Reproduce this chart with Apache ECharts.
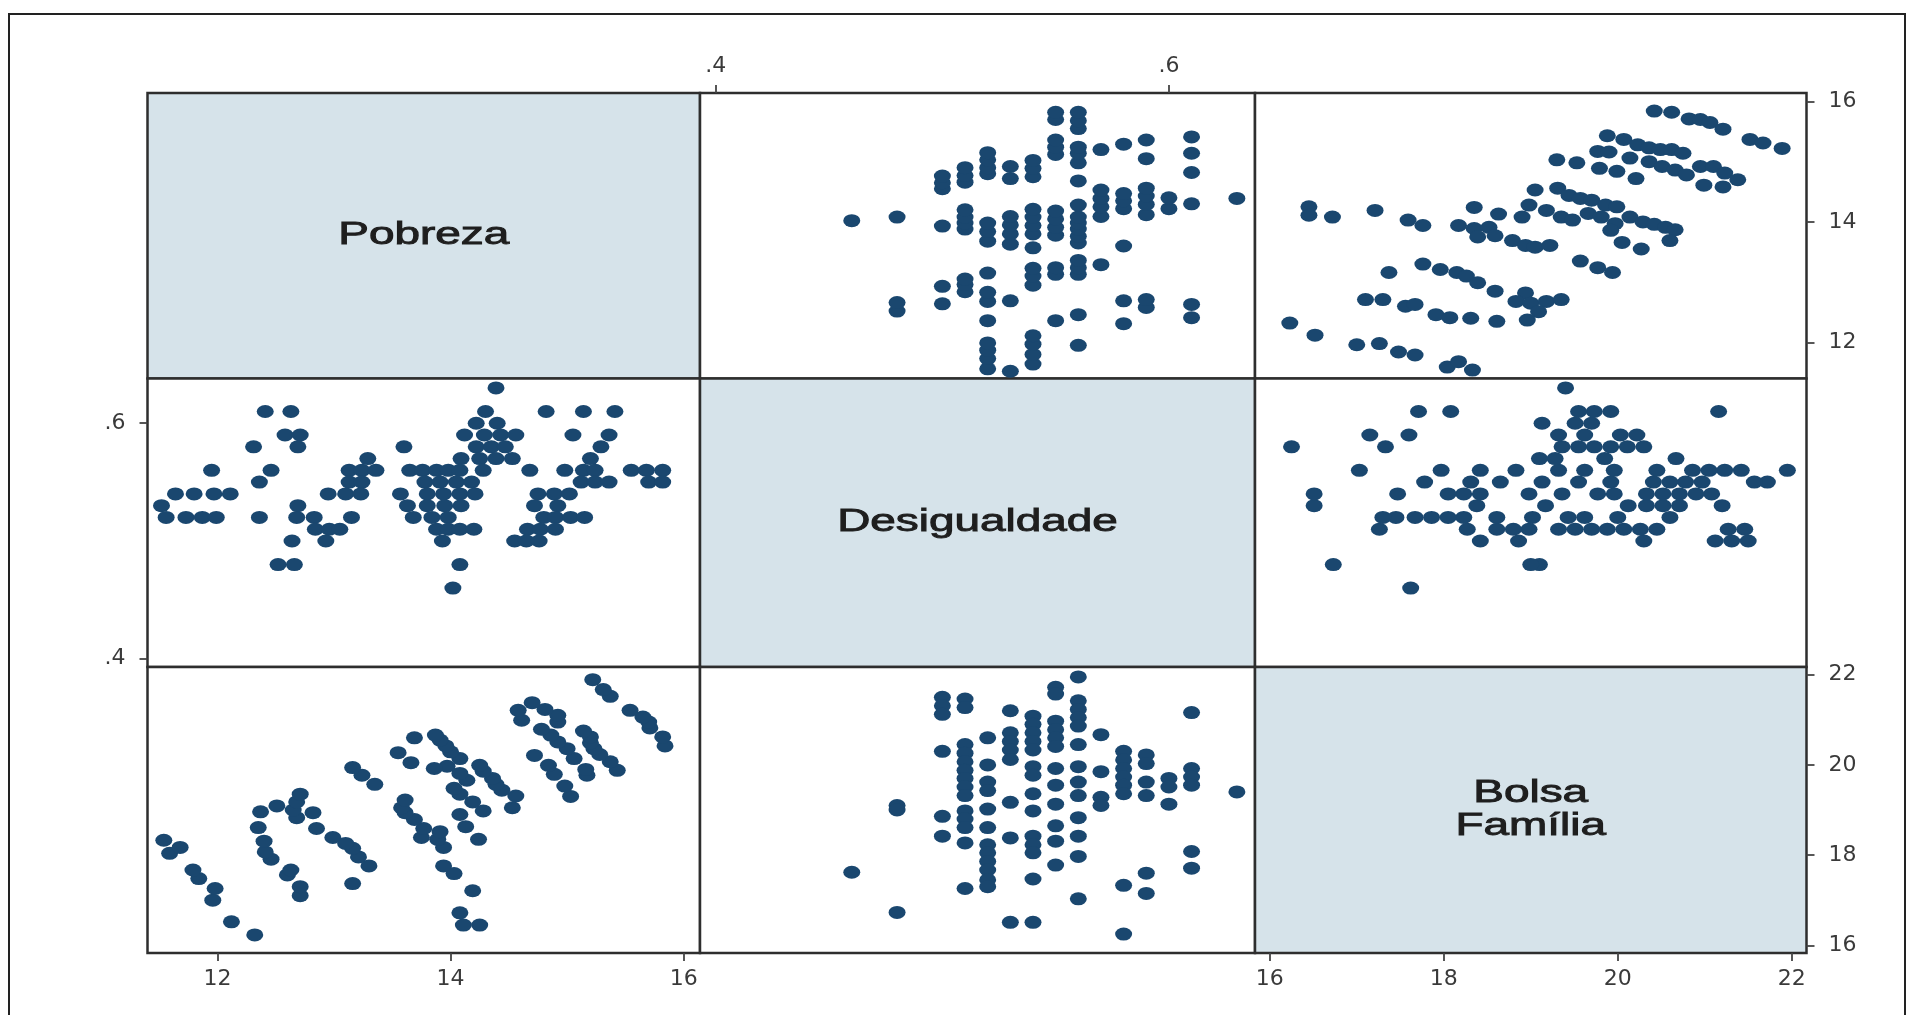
<!DOCTYPE html>
<html><head><meta charset="utf-8">
<script src="https://cdn.jsdelivr.net/npm/echarts@6/dist/echarts.min.js"></script>
<style>html,body{margin:0;padding:0;background:#fff}#c{width:1911px;height:1015px}</style>
</head><body><div id="c"></div>
<script>
// ---- data ----
const variableNames = ['Pobreza', 'Desigualdade', 'Bolsa\nFamília'];
const pobrezaTicks = [12, 14, 16];
const desigualdadeTicks = [0.4, 0.6];
const bolsaTicks = [16, 18, 20, 22];
const pobrezaRange = [11.40, 16.14];
const desigualdadeRange = [0.393, 0.638];
const bolsaRange = [15.83, 22.17];

// [Desigualdade, Pobreza]
const desigualdadePobreza = [
  [0.63,14.39],
  [0.61,12.41],[0.61,12.63],[0.61,14.30],[0.61,14.82],[0.61,15.14],[0.61,15.41],
  [0.60,14.22],[0.60,14.40],
  [0.59,12.58],[0.59,12.71],[0.59,14.12],[0.59,14.29],[0.59,14.43],[0.59,14.56],[0.59,15.05],[0.59,15.36],
  [0.58,12.31],[0.58,12.69],[0.58,13.60],[0.58,14.22],[0.58,14.35],[0.58,14.47],[0.58,15.29],
  [0.57,13.29],[0.57,14.09],[0.57,14.25],[0.57,14.39],[0.57,14.53],[0.57,15.20],
  [0.56,11.95],[0.56,12.46],[0.56,13.13],[0.56,13.24],[0.56,13.36],[0.56,13.65],[0.56,13.76],[0.56,13.88],[0.56,13.98],
  [0.56,14.08],[0.56,14.28],[0.56,14.68],[0.56,14.98],[0.56,15.14],[0.56,15.24],[0.56,15.55],[0.56,15.68],[0.56,15.82],
  [0.55,12.36],[0.55,13.13],[0.55,13.24],[0.55,13.78],[0.55,13.91],[0.55,14.05],[0.55,14.18],[0.55,15.12],[0.55,15.24],
  [0.55,15.36],[0.55,15.70],[0.55,15.82],
  [0.54,11.64],[0.54,11.80],[0.54,11.97],[0.54,12.11],[0.54,12.95],[0.54,13.10],[0.54,13.23],[0.54,13.57],[0.54,13.80],
  [0.54,13.94],[0.54,14.08],[0.54,14.21],[0.54,14.75],[0.54,14.89],[0.54,15.02],
  [0.53,11.52],[0.53,12.69],[0.53,13.63],[0.53,13.80],[0.53,13.95],[0.53,14.09],[0.53,14.72],[0.53,14.92],
  [0.52,11.56],[0.52,11.73],[0.52,11.87],[0.52,11.99],[0.52,12.36],[0.52,12.68],[0.52,12.83],[0.52,13.15],[0.52,13.68],
  [0.52,13.84],[0.52,13.98],[0.52,14.80],[0.52,14.90],[0.52,15.03],[0.52,15.15],
  [0.51,12.84],[0.51,12.96],[0.51,13.05],[0.51,13.88],[0.51,13.98],[0.51,14.08],[0.51,14.20],[0.51,14.66],[0.51,14.77],[0.51,14.90],
  [0.50,12.64],[0.50,12.93],[0.50,13.93],[0.50,14.55],[0.50,14.65],[0.50,14.76],
  [0.48,12.52],[0.48,12.66],[0.48,14.08],
  [0.46,14.02]
];

// [Bolsa Família, Pobreza]
const bolsaPobreza = [
  [20.42,15.84],[20.62,15.82],[20.82,15.71],[20.95,15.70],[21.06,15.65],[21.21,15.54],
  [21.52,15.37],[21.67,15.31],[21.89,15.22],
  [19.88,15.43],[20.07,15.37],[20.23,15.28],[20.36,15.23],[20.49,15.20],[20.62,15.20],[20.75,15.14],
  [19.77,15.17],[19.90,15.16],[19.30,15.03],[19.53,14.98],[19.79,14.89],[19.99,14.84],[20.21,14.72],
  [20.14,15.06],[20.36,15.00],[20.51,14.92],[20.66,14.86],[20.79,14.78],
  [20.95,14.92],[21.10,14.92],[21.23,14.81],[21.38,14.70],[20.99,14.61],[21.21,14.58],
  [19.05,14.53],[19.31,14.56],[19.44,14.44],[19.57,14.39],[19.70,14.36],[19.86,14.28],[19.99,14.25],
  [18.98,14.28],[19.18,14.19],[19.35,14.08],[19.48,14.03],[19.66,14.14],[19.81,14.08],[19.97,13.97],
  [20.14,14.08],[20.29,14.00],[20.42,13.96],[20.55,13.91],[20.66,13.87],
  [18.90,14.08],[18.63,14.13],[18.35,14.24],
  [18.17,13.94],[18.35,13.89],[18.52,13.91],[18.39,13.75],[18.59,13.77],[18.79,13.69],[18.94,13.61],[19.05,13.58],[19.22,13.61],
  [19.92,13.86],[20.05,13.66],[20.27,13.55],[20.60,13.69],
  [19.57,13.35],[19.77,13.24],[19.94,13.16],
  [16.45,14.25],[16.45,14.11],[16.72,14.08],[17.21,14.19],[17.59,14.03],[17.76,13.94],
  [17.76,13.30],[17.96,13.21],[18.15,13.16],[18.26,13.10],[18.39,12.99],[18.59,12.85],
  [17.37,13.16],
  [17.10,12.71],[17.30,12.71],[17.56,12.60],[17.67,12.63],
  [18.94,12.82],[18.83,12.68],[19.00,12.65],[19.18,12.68],[19.35,12.71],[19.09,12.51],[18.96,12.37],
  [17.91,12.46],[18.07,12.41],[18.31,12.40],[18.61,12.35],
  [16.23,12.32],[16.52,12.12],
  [17.00,11.96],[17.26,11.98],[17.48,11.84],[17.67,11.79],
  [18.04,11.59],[18.17,11.68],[18.33,11.54]
];

// [Desigualdade, Bolsa Família]
const desigualdadeBolsa = [
  [0.46,17.62],
  [0.48,19.10],[0.48,19.00],[0.48,16.73],
  [0.50,21.50],[0.50,21.31],[0.50,21.12],[0.50,20.30],[0.50,18.86],[0.50,18.42],
  [0.51,21.46],[0.51,21.27],[0.51,20.45],[0.51,20.26],[0.51,20.07],[0.51,19.88],[0.51,19.70],[0.51,19.51],[0.51,19.32],
  [0.51,18.98],[0.51,18.80],[0.51,18.61],[0.51,18.27],[0.51,17.26],
  [0.52,20.60],[0.52,20.00],[0.52,19.62],[0.52,19.43],[0.52,19.02],[0.52,18.61],[0.52,18.23],[0.52,18.05],[0.52,17.86],
  [0.52,17.67],[0.52,17.45],[0.52,17.30],
  [0.53,21.20],[0.53,20.71],[0.53,20.52],[0.53,20.33],[0.53,20.12],[0.53,19.17],[0.53,18.38],[0.53,16.51],
  [0.54,21.08],[0.54,20.90],[0.54,20.71],[0.54,20.52],[0.54,20.33],[0.54,19.96],[0.54,19.77],[0.54,19.36],[0.54,18.98],
  [0.54,18.42],[0.54,18.23],[0.54,18.05],[0.54,17.47],[0.54,16.51],
  [0.55,21.72],[0.55,21.57],[0.55,20.97],[0.55,20.78],[0.55,20.60],[0.55,20.41],[0.55,19.92],[0.55,19.55],[0.55,19.13],
  [0.55,18.65],[0.55,18.31],[0.55,17.78],
  [0.56,21.95],[0.56,21.42],[0.56,21.23],[0.56,21.05],[0.56,20.86],[0.56,20.45],[0.56,19.96],[0.56,19.62],[0.56,19.32],
  [0.56,18.83],[0.56,18.42],[0.56,17.97],[0.56,17.03],
  [0.57,20.67],[0.57,19.85],[0.57,19.28],[0.57,19.10],
  [0.58,20.30],[0.58,20.11],[0.58,19.92],[0.58,19.73],[0.58,19.55],[0.58,19.36],[0.58,17.33],[0.58,16.25],
  [0.59,20.22],[0.59,20.03],[0.59,19.62],[0.59,19.32],[0.59,17.60],[0.59,17.15],
  [0.60,19.70],[0.60,19.51],[0.60,19.13],
  [0.61,21.16],[0.61,19.92],[0.61,19.73],[0.61,19.55],[0.61,18.08],[0.61,17.71],
  [0.63,19.40]
];

// ---- layout / style ----
const colLeft = [147.5, 700, 1255];
const colWidth = [552.5, 555, 551.5];
const rowTop = [93, 378.5, 667];
const rowHeight = [285.5, 288.5, 286];
const markerColor = '#1a476f';
const diagFill = '#d6e3ea';

const vars = [
  { range: pobrezaRange, ticks: pobrezaTicks, fmt: v => String(v) },
  { range: desigualdadeRange, ticks: desigualdadeTicks, fmt: v => v.toFixed(1).replace(/^0/, '') },
  { range: bolsaRange, ticks: bolsaTicks, fmt: v => String(v) }
];

const swap = arr => arr.map(p => [p[1], p[0]]);
// data for cell (row, col): x = variable col, y = variable row
const cellData = {
  '0,1': desigualdadePobreza,
  '0,2': bolsaPobreza,
  '1,0': swap(desigualdadePobreza),
  '1,2': swap(desigualdadeBolsa),
  '2,0': swap(bolsaPobreza),
  '2,1': desigualdadeBolsa
};

const grids = [], xAxes = [], yAxes = [], series = [];
for (let r = 0; r < 3; r++) {
  for (let c = 0; c < 3; c++) {
    const g = r * 3 + c;
    grids.push({
      left: colLeft[c], top: rowTop[r], width: colWidth[c], height: rowHeight[r],
      show: true, borderColor: '#2e2e2e', borderWidth: 2.5,
      backgroundColor: r === c ? diagFill : '#ffffff'
    });
    const xv = vars[c], yv = vars[r];
    const showX = (r === 0 && c === 1) || (r === 2 && (c === 0 || c === 2));
    const showY = (c === 2 && (r === 0 || r === 2)) || (c === 0 && r === 1);
    const xTop = (r === 0 && c === 1);
    xAxes.push({
      type: 'value', gridIndex: g, min: xv.range[0], max: xv.range[1],
      position: xTop ? 'top' : 'bottom',
      axisLine: { show: false }, splitLine: { show: false },
      axisTick: { show: showX, customValues: xv.ticks, length: 8, lineStyle: { color: '#444', width: 1.8 } },
      axisLabel: { show: showX, customValues: xv.ticks, formatter: xv.fmt, fontFamily: 'DejaVu Sans',
        fontSize: 22, color: '#3a3a3a', margin: xTop ? 16 : 15 }
    });
    yAxes.push({
      type: 'value', gridIndex: g, min: yv.range[0], max: yv.range[1],
      position: c === 2 ? 'right' : 'left',
      axisLine: { show: false }, splitLine: { show: false },
      axisTick: { show: showY, customValues: yv.ticks, length: 8, lineStyle: { color: '#444', width: 1.8 } },
      axisLabel: { show: showY, customValues: yv.ticks, formatter: yv.fmt, fontFamily: 'DejaVu Sans',
        fontSize: 22, color: '#3a3a3a', margin: 22 }
    });
    const d = cellData[r + ',' + c];
    if (d) {
      series.push({
        type: 'scatter', xAxisIndex: g, yAxisIndex: g, data: d,
        symbol: 'circle', symbolSize: [17, 13], silent: true,
        itemStyle: { color: markerColor, opacity: 1 }
      });
    }
  }
}

const graphics = [
  { type: 'rect', z: 100, silent: true, shape: { x: 9, y: 14, width: 1896, height: 1020 },
    style: { fill: 'none', stroke: '#222', lineWidth: 2 } }
];
for (let i = 0; i < 3; i++) {
  graphics.push({
    type: 'text', z: 100, silent: true,
    x: colLeft[i] + colWidth[i] / 2, y: rowTop[i] + rowHeight[i] / 2,
    scaleX: 1.48,
    style: { text: variableNames[i], fontFamily: 'Liberation Sans', fontSize: 31, lineHeight: 33,
      fill: '#1e1e1e', stroke: '#1e1e1e', lineWidth: 0.9,
      align: 'center', verticalAlign: 'middle' }
  });
}

const chart = echarts.init(document.getElementById('c'), null, { renderer: 'canvas' });
chart.setOption({
  animation: false,
  backgroundColor: '#ffffff',
  grid: grids, xAxis: xAxes, yAxis: yAxes, series: series,
  graphic: graphics
});
</script></body></html>
